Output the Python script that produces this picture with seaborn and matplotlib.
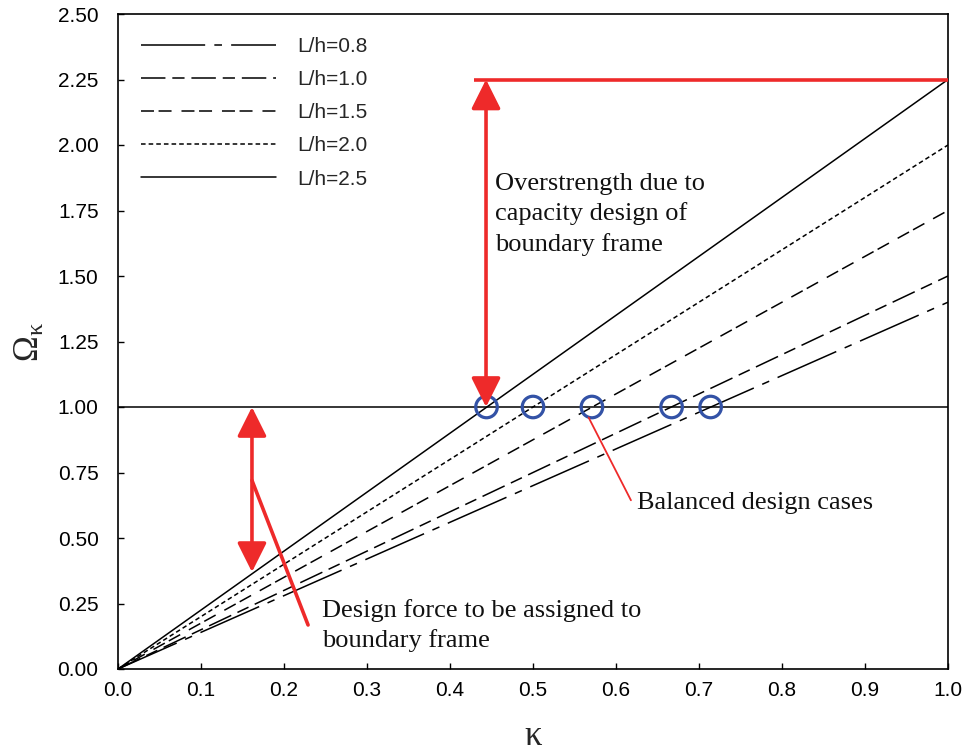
import matplotlib
matplotlib.use("Agg")
import matplotlib.pyplot as plt
import seaborn as sns
import pandas as pd

# ---- data ----
series_labels = ["L/h=0.8", "L/h=1.0", "L/h=1.5", "L/h=2.0", "L/h=2.5"]
kappa = [0.0, 1.0]
omega_08 = [0.0, 1.40]
omega_10 = [0.0, 1.50]
omega_15 = [0.0, 1.75]
omega_20 = [0.0, 2.00]
omega_25 = [0.0, 2.25]
balanced_kappa = [0.714, 0.667, 0.571, 0.500, 0.444]
balanced_omega = [1.0, 1.0, 1.0, 1.0, 1.0]
x_ticks = [0.0, 0.1, 0.2, 0.3, 0.4, 0.5, 0.6, 0.7, 0.8, 0.9, 1.0]
y_ticks = [0.0, 0.25, 0.5, 0.75, 1.0, 1.25, 1.5, 1.75, 2.0, 2.25, 2.5]

rows = []
for lab, vals in zip(series_labels, [omega_08, omega_10, omega_15, omega_20, omega_25]):
    for k, o in zip(kappa, vals):
        rows.append({"kappa": k, "omega": o, "series": lab})
df = pd.DataFrame(rows)

sns.set_theme(style="white")
plt.rcParams["font.family"] = ["Liberation Sans", "DejaVu Sans"]
plt.rcParams["mathtext.fontset"] = "custom"
plt.rcParams["mathtext.rm"] = "Liberation Serif"
plt.rcParams["mathtext.it"] = "Liberation Serif"

fig = plt.figure(figsize=(9.68, 7.51), dpi=100)
ax = fig.add_axes([118 / 968, 1 - 669 / 751, (948 - 118) / 968, (669 - 14) / 751])

dash_map = {
    "L/h=0.8": (42, 6, 5, 6),
    "L/h=1.0": (16, 4.5, 8, 4.5),
    "L/h=1.5": (8.5, 3, 8.5, 6.5),
    "L/h=2.0": (3, 2),
    "L/h=2.5": "",
}
sns.lineplot(data=df, x="kappa", y="omega", style="series", style_order=series_labels,
             dashes=dash_map, color="black", linewidth=1.1, legend=False, ax=ax)

ax.axhline(1.0, color="black", linewidth=1.1, zorder=2)

sns.scatterplot(x=balanced_kappa, y=balanced_omega, ax=ax, marker="o", s=240,
                facecolor="none", edgecolor="#3352A6", linewidth=2.3, zorder=5, legend=False)

red = "#EE2A2A"
arrow_style = "<|-|>,head_length=1.0,head_width=0.5"
# overstrength arrow and level
ax.plot([0.429, 1.0], [2.25, 2.25], color=red, linewidth=2.6, solid_capstyle="butt", zorder=4)
ax.annotate("", xy=(0.4434, 2.25), xytext=(0.4434, 1.0),
            arrowprops=dict(arrowstyle=arrow_style, mutation_scale=18, color=red, lw=2.6,
                            shrinkA=0, shrinkB=0), zorder=6)
# design force arrow
ax.annotate("", xy=(0.1614, 1.0), xytext=(0.1614, 0.37),
            arrowprops=dict(arrowstyle=arrow_style, mutation_scale=18, color=red, lw=2.6,
                            shrinkA=0, shrinkB=0), zorder=6)
ax.plot([0.1614, 0.229], [0.72, 0.168], color=red, linewidth=2.6, zorder=6)
# balanced leader
ax.plot([0.567, 0.618], [0.96, 0.644], color=red, linewidth=1.3, zorder=6)

serif = ["Liberation Serif", "DejaVu Serif"]
ax.text(0.454, 1.892, "Overstrength due to\ncapacity design of\nboundary frame",
        family=serif, fontsize=19, va="top", ha="left", linespacing=1.4, color="#111111")
ax.text(0.625, 0.633, "Balanced design cases", family=serif, fontsize=19,
        va="center", ha="left", color="#111111")
ax.text(0.2458, 0.267, "Design force to be assigned to\nboundary frame", family=serif,
        fontsize=19, va="top", ha="left", linespacing=1.4, color="#111111")

ax.set_xlim(0, 1)
ax.set_ylim(0, 2.5)
ax.set_xticks(x_ticks)
ax.set_xticklabels([f"{v:.1f}" for v in x_ticks])
ax.set_yticks(y_ticks)
ax.set_yticklabels([f"{v:.2f}" for v in y_ticks])
ax.tick_params(direction="in", length=4, width=1.0, labelsize=15, colors="black",
               bottom=True, left=True)
ax.tick_params(axis="y", pad=14)
ax.tick_params(axis="x", pad=9)
for sp in ax.spines.values():
    sp.set_color("black")
    sp.set_linewidth(1.2)

ax.set_xlabel("κ", family=serif, fontsize=25, labelpad=14)
ax.set_ylabel(r"$\mathrm{\Omega_{\kappa}}$", fontsize=25, labelpad=8)

handles = ax.get_lines()[:5]
ax.legend(handles, series_labels, loc="upper left", frameon=False, fontsize=15,
          handlelength=6.5, handletextpad=1.0, labelspacing=0.68,
          borderaxespad=0.4, borderpad=0.7)

fig.savefig("out.png", dpi=100)
